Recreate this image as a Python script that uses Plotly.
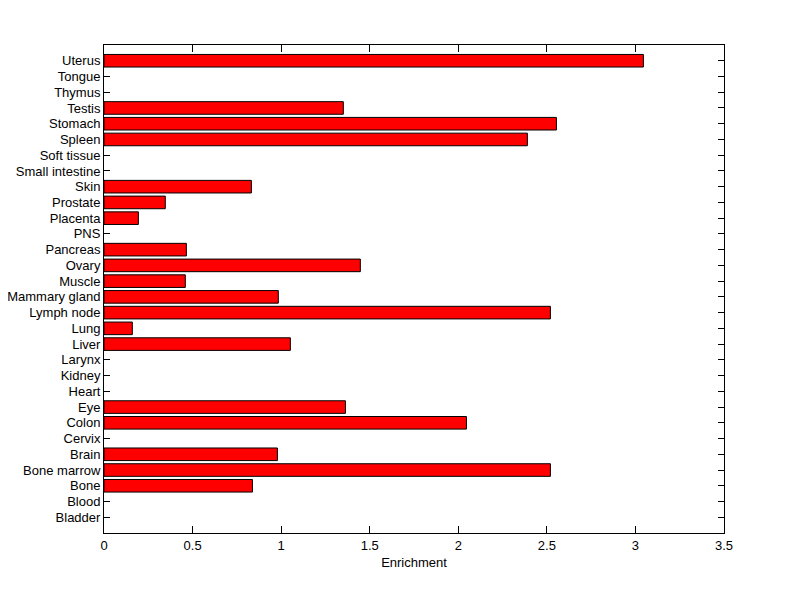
import plotly.graph_objects as go

tissues = ["Bladder", "Blood", "Bone", "Bone marrow", "Brain", "Cervix", "Colon", "Eye",
           "Heart", "Kidney", "Larynx", "Liver", "Lung", "Lymph node", "Mammary gland",
           "Muscle", "Ovary", "Pancreas", "PNS", "Placenta", "Prostate", "Skin",
           "Small intestine", "Soft tissue", "Spleen", "Stomach", "Testis", "Thymus",
           "Tongue", "Uterus"]
enrichment = [0, 0, 0.838, 2.52, 0.979, 0, 2.046, 1.363,
              0, 0, 0, 1.052, 0.160, 2.52, 0.984,
              0.459, 1.447, 0.465, 0, 0.194, 0.346, 0.832,
              0, 0, 2.39, 2.554, 1.351, 0,
              0, 3.045]
x_ticks = [0, 0.5, 1, 1.5, 2, 2.5, 3, 3.5]
x_tick_text = ["0", "0.5", "1", "1.5", "2", "2.5", "3", "3.5"]

plot_vals = [v if v > 0 else None for v in enrichment]

fig = go.Figure(go.Bar(
    x=plot_vals, y=tissues, orientation="h",
    marker=dict(color="#FF0000", line=dict(color="black", width=1)),
    width=0.8,
))

font = dict(family="Liberation Sans, Arial, sans-serif", size=13, color="black")
fig.update_layout(
    width=800, height=599,
    margin=dict(l=96, r=84, t=37, b=74),
    paper_bgcolor="white", plot_bgcolor="white",
    font=font, showlegend=False,
    xaxis=dict(range=[0, 3.5], tickmode="array", tickvals=x_ticks, ticktext=x_tick_text,
               ticks="inside", ticklen=7, tickcolor="black", tickwidth=1,
               showline=True, linecolor="black", linewidth=1, mirror="ticks",
               showgrid=False, zeroline=False, automargin=False,
               title=dict(text="Enrichment", font=font, standoff=6)),
    yaxis=dict(type="category", categoryorder="array", categoryarray=tissues,
               tickmode="array", tickvals=tissues, ticktext=tissues,
               range=[-1, 30], ticks="inside", ticklen=6, tickcolor="black", tickwidth=1,
               showline=True, linecolor="black", linewidth=1, mirror="ticks",
               showgrid=False, zeroline=False, layer="below traces", automargin=False),
)

fig.write_html("out.html")
